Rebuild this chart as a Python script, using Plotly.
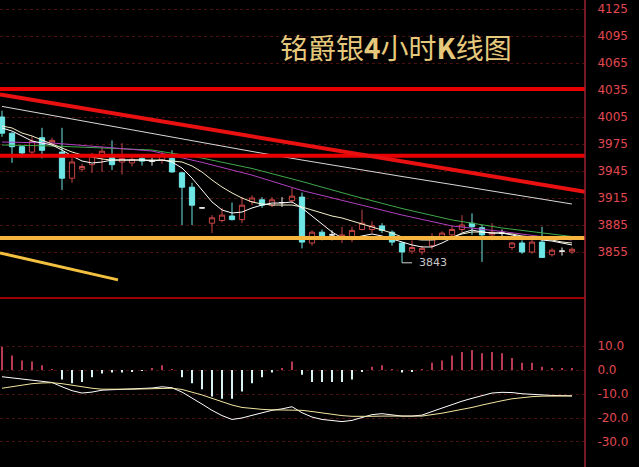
import plotly.graph_objects as go

# ---------------- data ----------------
idx = list(range(58))
opens = [4005,3987,3972,3966,3982,3976,3966,3937,3947,3952,3963,3960,3955,3954,3959,3956,3957,3959,3943,3927,
         3904,3887,3890,3895,3891,3911,3913,3907,3910,3912,3916,3865,3877,3874,3872,3870,3880,3880,3884,3877,
         3865,3856,3855,3862,3872,3874,3880,3887,3882,3874,3876,3860,3865,3855,3866,3852,3856,3855]
highs = [4012,3988,3973,3983,3993,3982,3993,3961,3953,3965,3972,3979,3976,3962,3963,3960,3966,3968,3944,3932,
         3905,3896,3904,3910,3916,3918,3916,3916,3916,3926,3921,3879,3880,3879,3883,3883,3902,3889,3887,3879,
         3866,3868,3862,3876,3878,3884,3896,3898,3885,3887,3880,3866,3868,3870,3883,3859,3860,3860]
lows = [3983,3954,3960,3962,3959,3972,3924,3932,3944,3943,3944,3946,3941,3950,3951,3951,3953,3943,3885,3885,
        3903,3876,3888,3890,3887,3907,3904,3905,3905,3909,3859,3862,3868,3868,3865,3866,3879,3876,3876,3862,
        3843,3853,3852,3858,3868,3870,3877,3874,3844,3868,3872,3857,3853,3853,3849,3850,3851,3853]
closes = [3987,3972,3965,3978,3968,3979,3937,3955,3950,3963,3967,3952,3959,3958,3956,3956,3963,3944,3927,3907,
          3904,3893,3896,3891,3907,3915,3907,3913,3910,3917,3866,3877,3872,3874,3874,3879,3887,3884,3879,3866,
          3855,3860,3859,3872,3876,3880,3885,3883,3874,3877,3876,3865,3855,3866,3849,3857,3856,3858]

ma5 = [3992.8,3989.4,3983.9,3978.3,3976.1,3973.9,3968.3,3961.7,3956.1,3953.9,3955.0,3957.2,3957.2,3957.2,3957.2,
       3956.1,3957.2,3955.0,3948.3,3937.2,3923.9,3910.6,3901.7,3898.3,3899.4,3903.9,3907.2,3909.4,3909.4,3910.6,
       3903.9,3895.0,3886.1,3877.2,3870.6,3870.6,3872.8,3875.0,3872.8,3869.4,3866.1,3862.8,3860.6,3860.6,3865.0,
       3870.6,3876.1,3879.4,3877.2,3876.1,3876.1,3873.9,3871.7,3870.6,3868.3,3867.2,3865.0,3862.8]
ma10 = [3995.0,3992.8,3987.2,3983.9,3979.4,3975.0,3970.6,3966.1,3962.8,3960.6,3958.3,3957.2,3957.2,3957.2,3957.2,
        3957.2,3957.2,3956.1,3955.0,3950.6,3943.9,3935.0,3927.2,3920.6,3915.0,3910.6,3908.3,3907.2,3907.2,3907.2,
        3905.0,3901.7,3898.3,3895.0,3892.8,3889.4,3886.1,3882.8,3879.4,3876.1,3871.7,3869.4,3868.3,3868.3,3869.4,
        3871.7,3875.0,3877.2,3877.2,3876.1,3876.1,3875.0,3872.8,3871.7,3869.4,3868.3,3866.1,3865.0]
slow_idx = [0,5,10,15,20,25,30,35,40,45,50,55,57]
ma20 = [3977.2,3976.1,3971.7,3967.2,3954.6,3940.4,3923.3,3909.4,3896.1,3883.9,3877.8,3870.6,3868.3]
ma30 = [3973.9,3972.8,3970.6,3968.3,3959.4,3947.8,3933.3,3917.8,3903.3,3890.6,3881.7,3875.0,3872.2]
ma60 = [4016.8,4006.7,3996.7,3986.8,3976.1,3966.7,3957.2,3947.8,3938.9,3930.0,3921.1,3912.2,3908.3]

macd_hist = [9.6,6,4,3.5,2,0.3,-4,-5.5,-5,-3,-1.5,-1,-1,-0.5,-0.3,0.5,2,0.3,-3,-5.5,-8,-11,-12,-12,-9,-5.5,-3,-1,
             0.5,3.5,-2,-5,-5,-5,-5,-4,-0.5,1.4,2,0.3,-1,-0.5,0.2,3,4,6,7.5,8.3,7,7.5,7,5,3,3,1.4,0.7,0.5,0.5]
dif = [-2.8,-3.3,-3.9,-4.2,-4.6,-5.2,-7.0,-8.6,-9.6,-9.2,-8.4,-8.2,-8.1,-8.0,-7.9,-7.5,-7.0,-7.4,-9.2,-11.6,
       -14.2,-16.8,-19.0,-20.6,-20.0,-18.9,-17.8,-16.8,-16.2,-15.3,-17.8,-19.6,-20.6,-21.2,-21.5,-21.0,-19.8,-18.6,
       -18.2,-18.6,-19.2,-19.2,-18.8,-17.3,-15.8,-14.3,-13.0,-11.8,-10.8,-9.6,-9.3,-9.4,-9.9,-10.2,-10.5,-10.6,-10.7,-10.8]
dea = [-7.6,-6.9,-6.2,-5.7,-5.4,-5.3,-5.7,-6.4,-7.1,-7.6,-8.0,-8.1,-8.1,-8.0,-7.9,-7.8,-7.6,-7.6,-8.1,-9.1,
       -10.4,-11.8,-13.2,-14.6,-15.6,-16.1,-16.4,-16.6,-16.7,-16.8,-16.8,-17.3,-17.9,-18.5,-19.0,-19.3,-19.4,-19.3,
       -19.2,-19.1,-19.1,-19.2,-19.2,-18.7,-18.0,-17.2,-16.5,-15.6,-14.6,-13.6,-12.8,-12.0,-11.5,-11.1,-10.9,-10.8,-10.8,-10.8]

price_ticks = [3855,3885,3915,3945,3975,4005,4035,4065,4095,4125]
macd_ticks = [-30,-20,-10,0,10]
macd_ticktext = ["-30.0","-20.0","-10.0","0.0","10.0"]

red_levels = [4036, 3962]
orange_level = 3870.5
trend_x = [-0.2, 58.3]
trend_y = [4030, 3922]
stub_x = [-0.2, 11.6]
stub_y = [3854, 3824]
low_mark_idx = 40
title_text = "铭爵银<b>4</b>小时<b>K</b>线图"

# ---------------- figure ----------------
X_RANGE = [-0.2, 58.3]
fig = go.Figure()

def subset(cond):
    s = [i for i in idx if cond(i)]
    return (s, [opens[i] for i in s], [highs[i] for i in s], [lows[i] for i in s], [closes[i] for i in s])

for cond, col, fill in [
    (lambda i: closes[i] > opens[i], "#C84646", "#000000"),
    (lambda i: closes[i] < opens[i], "#6FE6E6", "#6FE6E6"),
    (lambda i: closes[i] == opens[i], "#F0F0F0", "#F0F0F0"),
]:
    xs, o, h, l, c = subset(cond)
    fig.add_trace(go.Candlestick(
        x=xs, open=o, high=h, low=l, close=c, xaxis="x", yaxis="y",
        increasing=dict(line=dict(color=col, width=1), fillcolor=fill),
        decreasing=dict(line=dict(color=col, width=1), fillcolor=fill),
        whiskerwidth=0, hoverinfo="skip"))

line_specs = [
    (slow_idx, ma60, "#D8D8D8"),
    (slow_idx, ma30, "#3FA84A"),
    (slow_idx, ma20, "#B040C0"),
    (idx, ma10, "#F4F0C8"),
    (idx, ma5, "#FFFFFF"),
]
for xs, ys, col in line_specs:
    fig.add_trace(go.Scatter(x=xs, y=ys, mode="lines", line=dict(color=col, width=1),
                             xaxis="x", yaxis="y", hoverinfo="skip"))

# low marker bracket
fig.add_trace(go.Scatter(x=[low_mark_idx, low_mark_idx + 1], y=[lows[low_mark_idx]] * 2, mode="lines",
                         line=dict(color="#D0D0D0", width=1), xaxis="x", yaxis="y", hoverinfo="skip"))

# MACD
fig.add_trace(go.Bar(x=idx, y=macd_hist, width=0.12, xaxis="x2", yaxis="y2",
                     marker=dict(color=["#B83A50" if v > 0 else "#D8F0F0" for v in macd_hist], line=dict(width=0)),
                     hoverinfo="skip"))
fig.add_trace(go.Scatter(x=idx, y=dif, mode="lines", line=dict(color="#FFFFFF", width=1),
                         xaxis="x2", yaxis="y2", hoverinfo="skip"))
fig.add_trace(go.Scatter(x=idx, y=dea, mode="lines", line=dict(color="#F2E6A0", width=1),
                         xaxis="x2", yaxis="y2", hoverinfo="skip"))

shapes = []
for lv in red_levels:
    shapes.append(dict(type="line", xref="x", yref="y", x0=X_RANGE[0], x1=X_RANGE[1], y0=lv, y1=lv,
                       line=dict(color="#E80000", width=4)))
shapes.append(dict(type="line", xref="x", yref="y", x0=X_RANGE[0], x1=X_RANGE[1], y0=orange_level, y1=orange_level,
                   line=dict(color="#F4B43E", width=4)))
shapes.append(dict(type="line", xref="x", yref="y", x0=trend_x[0], x1=trend_x[1], y0=trend_y[0], y1=trend_y[1],
                   line=dict(color="#E81010", width=4)))
shapes.append(dict(type="line", xref="x", yref="y", x0=stub_x[0], x1=stub_x[1], y0=stub_y[0], y1=stub_y[1],
                   line=dict(color="#F4C040", width=3)))
shapes.append(dict(type="line", xref="paper", yref="y domain", x0=0, x1=1, y0=0, y1=0,
                   line=dict(color="#D00000", width=1.5)))
shapes.append(dict(type="line", xref="paper", yref="paper", x0=1, x1=1, y0=0, y1=1,
                   line=dict(color="#9A2030", width=1.5)))

tickfont = dict(family="DejaVu Sans", size=12, color="#E04850")
grid = dict(showgrid=True, gridcolor="#4A1010", griddash="dot", gridwidth=1, zeroline=False)

fig.update_layout(
    width=639, height=467, margin=dict(l=0, r=54, t=0, b=0, pad=0),
    paper_bgcolor="#000000", plot_bgcolor="#000000", showlegend=False,
    boxgap=0.25,
    xaxis=dict(domain=[0, 1], range=X_RANGE, showticklabels=False, showgrid=False, zeroline=False,
               rangeslider=dict(visible=False), anchor="y", ticks=""),
    xaxis2=dict(domain=[0, 1], range=X_RANGE, showticklabels=False, showgrid=False, zeroline=False,
                anchor="y2", matches="x", ticks=""),
    yaxis=dict(domain=[0.3619, 1], range=[3803.9, 4135], side="right", tickvals=price_ticks,
               tickfont=tickfont, ticks="outside", ticklen=9, tickcolor="#000000", anchor="x", **grid),
    yaxis2=dict(domain=[0, 0.3576], range=[-40.42, 29.17], side="right", tickvals=macd_ticks,
                ticktext=macd_ticktext, tickfont=tickfont, ticks="outside", ticklen=9, tickcolor="#000000",
                anchor="x2", **grid),
    shapes=shapes,
    annotations=[
        dict(text=title_text, xref="paper", yref="paper", x=0.677, y=0.899, xanchor="center", yanchor="middle",
             showarrow=False, font=dict(family="Noto Sans CJK SC", size=28, color="#E6C87C")),
        dict(text=str(lows[low_mark_idx]), xref="x", yref="y", x=low_mark_idx + 1.5, y=lows[low_mark_idx],
             xanchor="left", yanchor="middle", showarrow=False,
             font=dict(family="DejaVu Sans", size=11, color="#C8C8C8")),
    ],
)

fig.write_html("out.html", config={"displayModeBar": False},
               post_script="document.body.style.margin='0';document.body.style.background='#000';")
